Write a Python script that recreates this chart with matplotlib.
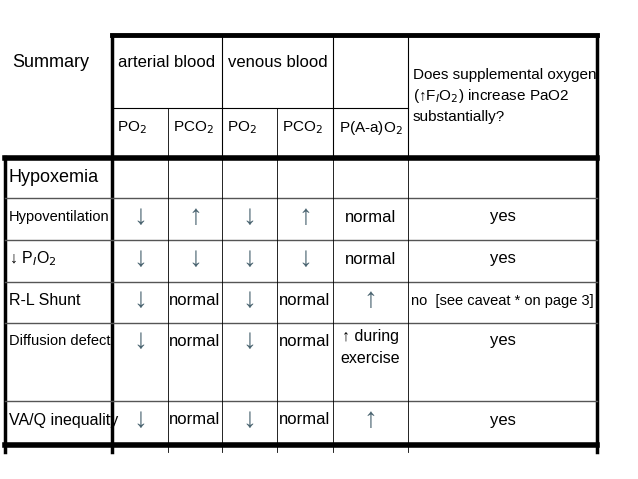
import matplotlib.pyplot as plt

plt.rcParams["font.family"] = "Liberation Sans"

col_edges = [112, 168, 222, 277, 333, 408, 597]
row_edges = [160, 198, 240, 282, 323, 401, 443]

group_headers = ["arterial blood", "venous blood"]
sub_headers = ["PO$_2$", "PCO$_2$", "PO$_2$", "PCO$_2$", "P(A-a)O$_2$"]
oxygen_header = "Does supplemental oxygen\n(\u2191F$_I$O$_2$) increase PaO2\nsubstantially?"

row_labels = ["Hypoxemia", "Hypoventilation", "\u2193 P$_I$O$_2$", "R-L Shunt",
              "Diffusion defect", "VA/Q inequality"]
cells = [
    ["", "", "", "", "", ""],
    ["\u2193", "\u2191", "\u2193", "\u2191", "normal", "yes"],
    ["\u2193", "\u2193", "\u2193", "\u2193", "normal", "yes"],
    ["\u2193", "normal", "\u2193", "normal", "\u2191", "no  [see caveat * on page 3]"],
    ["\u2193", "normal", "\u2193", "normal", "\u2191 during\nexercise", "yes"],
    ["\u2193", "normal", "\u2193", "normal", "\u2191", "yes"],
]

fig = plt.figure(figsize=(6.38, 4.79), dpi=100)
ax = fig.add_axes([0, 0, 1, 1])
ax.set_xlim(0, 638)
ax.set_ylim(479, 0)
ax.axis("off")

fs = 11
arrow_color = "#4a6470"

# header frame
ax.plot([112, 597], [35, 35], color="black", lw=3.5)
ax.plot([112, 408], [108, 108], color="black", lw=0.8)
for x in [222, 333, 408]:
    ax.plot([x, x], [35, 160], color="black", lw=0.8)
for x in [168, 277]:
    ax.plot([x, x], [108, 160], color="black", lw=0.6)
ax.plot([112, 112], [35, 452], color="black", lw=2.5)
ax.plot([597, 597], [35, 452], color="black", lw=2.5)
ax.plot([5, 5], [157, 452], color="black", lw=2.5)
ax.plot([5, 597], [158, 158], color="black", lw=4)
ax.plot([5, 597], [445, 445], color="black", lw=4)

# body grid
for y in row_edges[1:-1]:
    ax.plot([5, 597], [y, y], color="#555555", lw=1)
for x in col_edges[1:-1]:
    ax.plot([x, x], [160, 452], color="black", lw=0.6)

ax.text(12, 62, "Summary", fontsize=13, va="center", ha="left")
ax.text((112 + 222) / 2, 62, group_headers[0], fontsize=12, va="center", ha="center")
ax.text((222 + 333) / 2, 62, group_headers[1], fontsize=12, va="center", ha="center")
ax.text(413, 96, oxygen_header, fontsize=fs, va="center", ha="left", linespacing=1.45)
for i, label in enumerate(sub_headers):
    x = col_edges[i] + 5 if i < 4 else (col_edges[i] + col_edges[i + 1]) / 2
    ax.text(x, 128, label, fontsize=fs, va="center", ha="left" if i < 4 else "center")

for r, label in enumerate(row_labels):
    top = row_edges[r]
    y = (top + row_edges[r + 1]) / 2 - 2 if r != 4 else top + 18
    ax.text(9, y, label, fontsize=13 if r == 0 else (10.5 if r in (1, 4) else 11.5),
            va="center", ha="left")
    for c, val in enumerate(cells[r]):
        if not val:
            continue
        cx = (col_edges[c] + col_edges[c + 1]) / 2
        is_arrow = val in ("\u2191", "\u2193")
        if val.startswith("\u2191 "):
            ax.text(cx, top + 6, val, fontsize=fs + 0.5, va="top", ha="center", linespacing=1.55)
        elif is_arrow:
            ax.text(cx, y, val, fontsize=20, va="center", ha="center",
                    color=arrow_color, fontfamily="Liberation Sans")
        else:
            size = 10.5 if c == 5 and r == 3 else 12
            ax.text(cx, y, val, fontsize=size, va="center", ha="center")

fig.savefig("out.png", dpi=100)
